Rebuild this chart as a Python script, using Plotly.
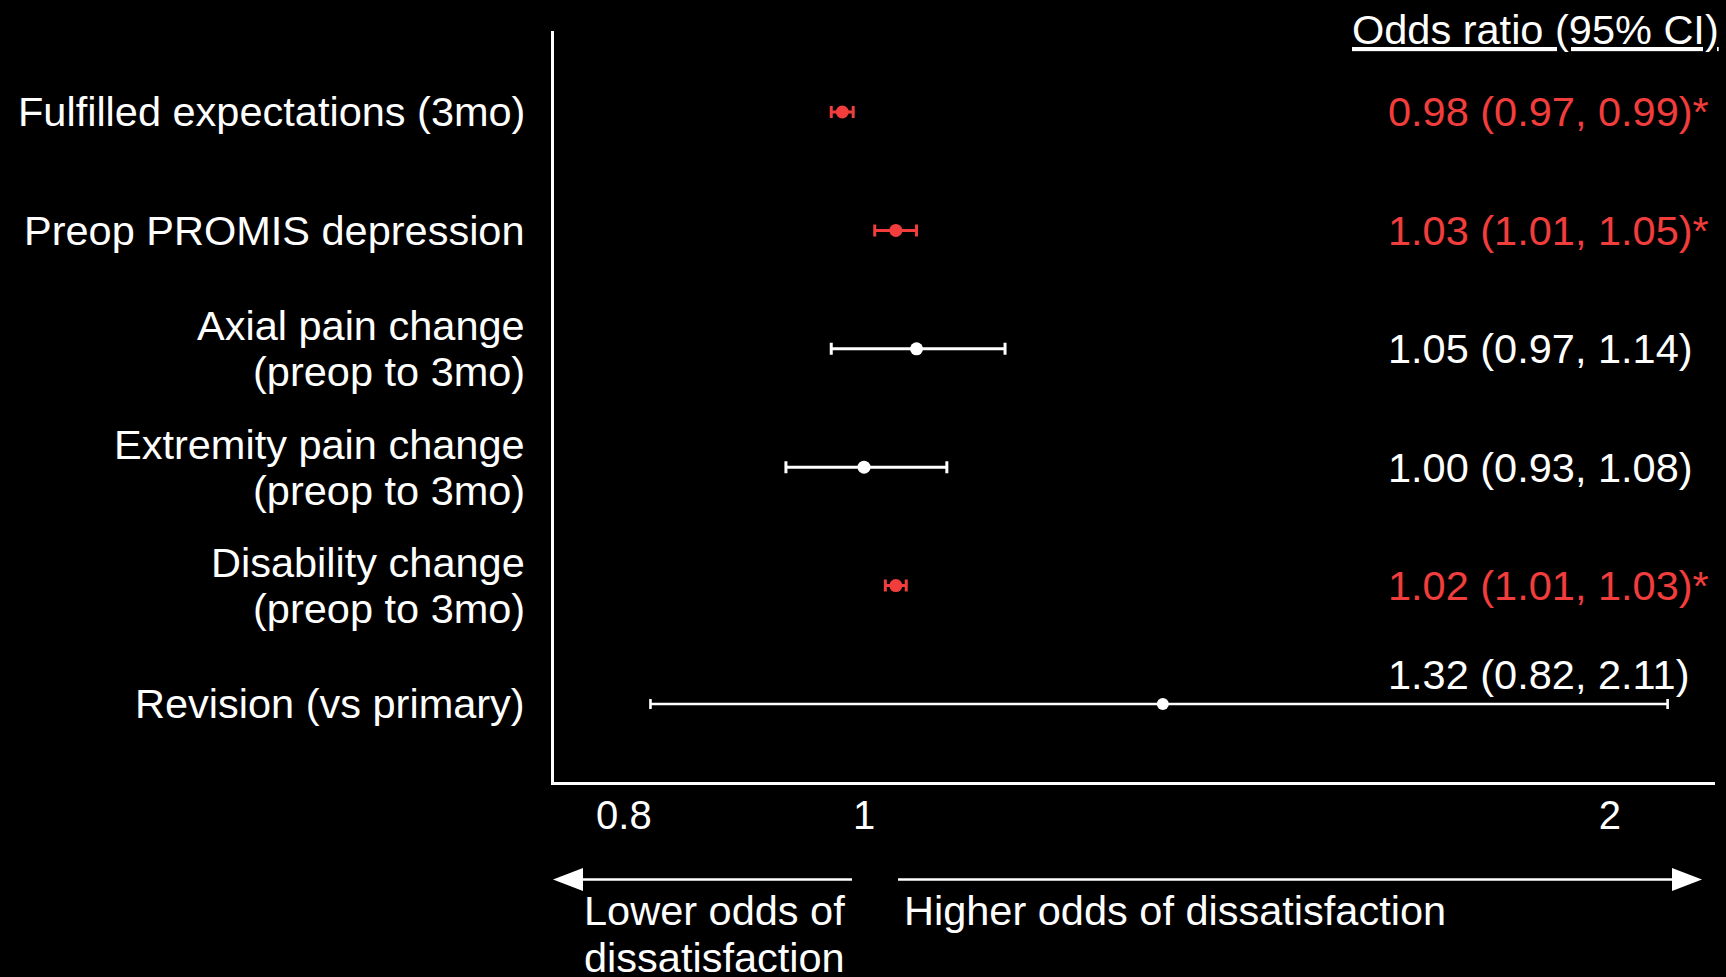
import numpy as np
import plotly.graph_objects as go

# ---------------- data ----------------
label_lines = [
    ["Fulfilled expectations (3mo)"],
    ["Preop PROMIS depression"],
    ["Axial pain change", "(preop to 3mo)"],
    ["Extremity pain change", "(preop to 3mo)"],
    ["Disability change", "(preop to 3mo)"],
    ["Revision (vs primary)"],
]
# plotted positions
odds_ratio = [0.98, 1.03, 1.05, 1.00, 1.03, 1.32]
ci_low = [0.97, 1.01, 0.97, 0.93, 1.02, 0.82]
ci_high = [0.99, 1.05, 1.14, 1.08, 1.04, 2.11]
# right-hand column text as printed
or_text = [
    "0.98 (0.97, 0.99)*",
    "1.03 (1.01, 1.05)*",
    "1.05 (0.97, 1.14)",
    "1.00 (0.93, 1.08)",
    "1.02 (1.01, 1.03)*",
    "1.32 (0.82, 2.11)",
]
tick_vals = [0.8, 1, 2]
tick_text = ["0.8", "1", "2"]
ref_value = 1.0
header = "Odds ratio (95% CI)"
lower_text = ["Lower odds of", "dissatisfaction"]
higher_text = "Higher odds of dissatisfaction"

# ---------------- layout constants ----------------
W, H = 1726, 977
PL, PR, PT, PB = 554, 1715, 31, 782
FONT = "Arial, 'Liberation Sans', sans-serif"
WHITE = "#ffffff"
RED = "#f23d3d"
FS = 41.5


def px(x):
    return (x - PL) / (PR - PL)


def py(y):
    return (PB - y) / (PB - PT)


fig = go.Figure()

rows = list(range(len(odds_ratio)))
sig = [t.endswith("*") for t in or_text]

for i in rows:
    col = RED if sig[i] else WHITE
    last = i == len(rows) - 1
    fig.add_trace(go.Scatter(
        x=[odds_ratio[i]], y=[i], mode="markers",
        marker=dict(color=col, size=12 if last else 13, line=dict(width=0)),
        error_x=dict(type="data", symmetric=False,
                     array=[ci_high[i] - odds_ratio[i]],
                     arrayminus=[odds_ratio[i] - ci_low[i]],
                     color=col, thickness=2.6 if last else 3, width=5 if last else 6),
        showlegend=False, hoverinfo="skip",
    ))

annotations = []
# left labels
for i, lines in enumerate(label_lines):
    n = len(lines)
    for j, line in enumerate(lines):
        shift = (n - 1) * 23 - j * 46
        annotations.append(dict(
            x=px(527), y=i, xref="paper", yref="y", text=line,
            xanchor="right", yanchor="middle", yshift=shift, showarrow=False,
            font=dict(family=FONT, size=FS, color=WHITE)))

# right OR text
for i in rows:
    col = RED if sig[i] else WHITE
    annotations.append(dict(
        x=px(1386), y=i, xref="paper", yref="y", text=or_text[i],
        xanchor="left", yanchor="middle", yshift=29 if i == len(rows) - 1 else 0,
        showarrow=False, font=dict(family=FONT, size=FS, color=col)))

# header
annotations.append(dict(
    x=px(1721), y=py(29), xref="paper", yref="paper", text=f"<u>{header}</u>",
    xanchor="right", yanchor="middle", showarrow=False,
    font=dict(family=FONT, size=FS, color=WHITE)))

# bottom direction texts
for j, line in enumerate(lower_text):
    annotations.append(dict(
        x=px(582), y=py(911 + j * 46), xref="paper", yref="paper", text=line,
        xanchor="left", yanchor="middle", showarrow=False,
        font=dict(family=FONT, size=FS, color=WHITE)))
annotations.append(dict(
    x=px(902), y=py(911), xref="paper", yref="paper", text=higher_text,
    xanchor="left", yanchor="middle", showarrow=False,
    font=dict(family=FONT, size=FS, color=WHITE)))

shapes = []
# reference line
shapes.append(dict(type="line", xref="x", yref="paper",
                   x0=np.log10(ref_value), x1=np.log10(ref_value), y0=0, y1=py(33),
                   line=dict(color=WHITE, width=2.5)))
# arrows
ay = py(879.5)
shapes.append(dict(type="line", xref="paper", yref="paper",
                   x0=px(580), x1=px(852), y0=ay, y1=ay, line=dict(color=WHITE, width=2.5)))
shapes.append(dict(type="path", xref="paper", yref="paper",
                   path=f"M {px(553)},{ay} L {px(583)},{py(868)} L {px(583)},{py(891)} Z",
                   fillcolor=WHITE, line=dict(width=0)))
shapes.append(dict(type="line", xref="paper", yref="paper",
                   x0=px(898), x1=px(1675), y0=ay, y1=ay, line=dict(color=WHITE, width=2.5)))
shapes.append(dict(type="path", xref="paper", yref="paper",
                   path=f"M {px(1702)},{ay} L {px(1672)},{py(868)} L {px(1672)},{py(891)} Z",
                   fillcolor=WHITE, line=dict(width=0)))

xr = [np.log10(0.7497), np.log10(2.205)]
yr = [len(rows) - 1 + 0.659, -0.684]

fig.update_layout(
    template="none",
    width=W, height=H,
    margin=dict(l=PL, r=W - PR, t=PT, b=H - PB, pad=0),
    paper_bgcolor="black", plot_bgcolor="black",
    font=dict(family=FONT, color=WHITE),
    showlegend=False,
    annotations=annotations,
    shapes=shapes,
    xaxis=dict(type="log", range=xr, tickvals=tick_vals, ticktext=tick_text,
               showgrid=False, zeroline=False, showline=True, linecolor=WHITE,
               linewidth=2.5, ticks="", ticklabelstandoff=-4,
               tickfont=dict(family=FONT, size=40, color=WHITE),
               automargin=False, fixedrange=True),
    yaxis=dict(range=yr, showticklabels=False, showgrid=False, zeroline=False,
               showline=True, linecolor=WHITE, linewidth=2.5, ticks="",
               automargin=False, fixedrange=True),
)

fig.write_html("out.html", config={"displayModeBar": False})
